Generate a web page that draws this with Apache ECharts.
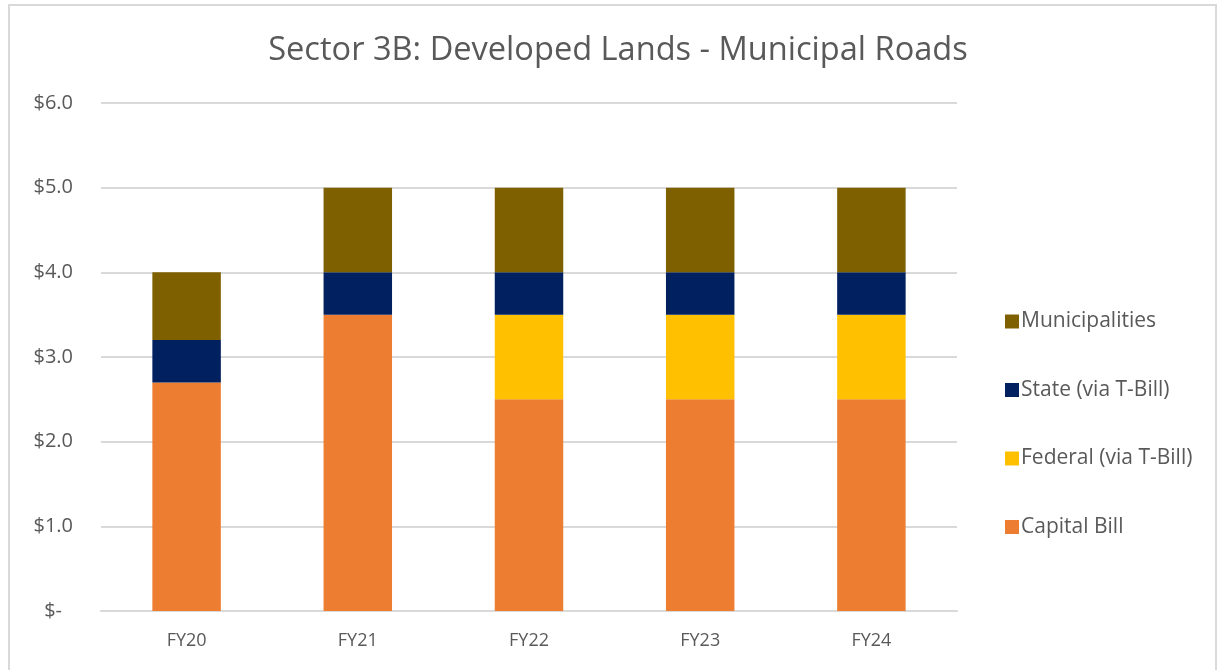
<!DOCTYPE html>
<html>
<head>
<meta charset="utf-8">
<script src="https://cdn.jsdelivr.net/npm/echarts@6/dist/echarts.min.js"></script>
<style>
  html, body { margin: 0; padding: 0; background: #fff; }
  #frame { position: absolute; left: 8px; top: 4px; width: 1209px; height: 680px; border: 2px solid #d9d9d9; box-sizing: border-box; }
  #container { position: absolute; left: 0; top: 0; width: 1221px; height: 670px; }
</style>
</head>
<body>
<div id="frame"></div>
<div id="container"></div>
<script>
// 分类与数据
var years = ['FY20', 'FY21', 'FY22', 'FY23', 'FY24'];
var capitalBill = [2.7, 3.5, 2.5, 2.5, 2.5];
var federal = [0, 0, 1.0, 1.0, 1.0];
var state = [0.5, 0.5, 0.5, 0.5, 0.5];
var municipalities = [0.8, 1.0, 1.0, 1.0, 1.0];

var font = 'Open Sans';
var textColor = '#595959';

var myChart = echarts.init(document.getElementById('container'));

var bar = function (name, data, color) {
    return {
        name: name,
        type: 'bar',
        stack: 'total',
        barWidth: '40%',
        data: data,
        itemStyle: { color: color },
        emphasis: { disabled: true }
    };
};

var option = {
    backgroundColor: 'transparent',
    animation: false,
    title: {
        text: 'Sector 3B: Developed Lands - Municipal Roads',
        left: 613,
        top: 29,
        textAlign: 'center',
        textStyle: { fontFamily: font, fontSize: 32.6, fontWeight: 'normal', color: textColor }
    },
    grid: { left: 101, right: 264, top: 103, bottom: 59 },
    legend: {
        orient: 'vertical',
        left: 1000,
        top: 306,
        itemWidth: 14,
        itemHeight: 14,
        itemGap: 47.5,
        icon: 'rect',
        data: ['Municipalities', 'State (via T-Bill)', 'Federal (via T-Bill)', 'Capital Bill'],
        textStyle: { fontFamily: font, fontSize: 21, color: textColor, padding: [0, 0, 0, -3] }
    },
    xAxis: {
        type: 'category',
        data: years,
        axisTick: { show: false },
        axisLine: { lineStyle: { color: '#d9d9d9', width: 2 } },
        axisLabel: { fontFamily: font, fontSize: 18, color: textColor, margin: 21 }
    },
    yAxis: {
        type: 'value',
        min: 0,
        max: 6,
        interval: 1,
        axisLine: { show: false },
        axisTick: { show: false },
        splitLine: { lineStyle: { color: '#d9d9d9', width: 2 } },
        axisLabel: {
            fontFamily: font,
            fontSize: 20,
            color: textColor,
            margin: 28,
            formatter: function (v) {
                return v === 0 ? '{dash|$-}' : '$' + v.toFixed(1);
            },
            rich: {
                dash: { fontFamily: font, fontSize: 20, color: textColor, padding: [0, 11, 0, 0] }
            }
        }
    },
    series: [
        bar('Capital Bill', capitalBill, '#ed7d31'),
        bar('Federal (via T-Bill)', federal, '#ffc000'),
        bar('State (via T-Bill)', state, '#002060'),
        bar('Municipalities', municipalities, '#7f6000')
    ]
};

myChart.setOption(option);
</script>
</body>
</html>
